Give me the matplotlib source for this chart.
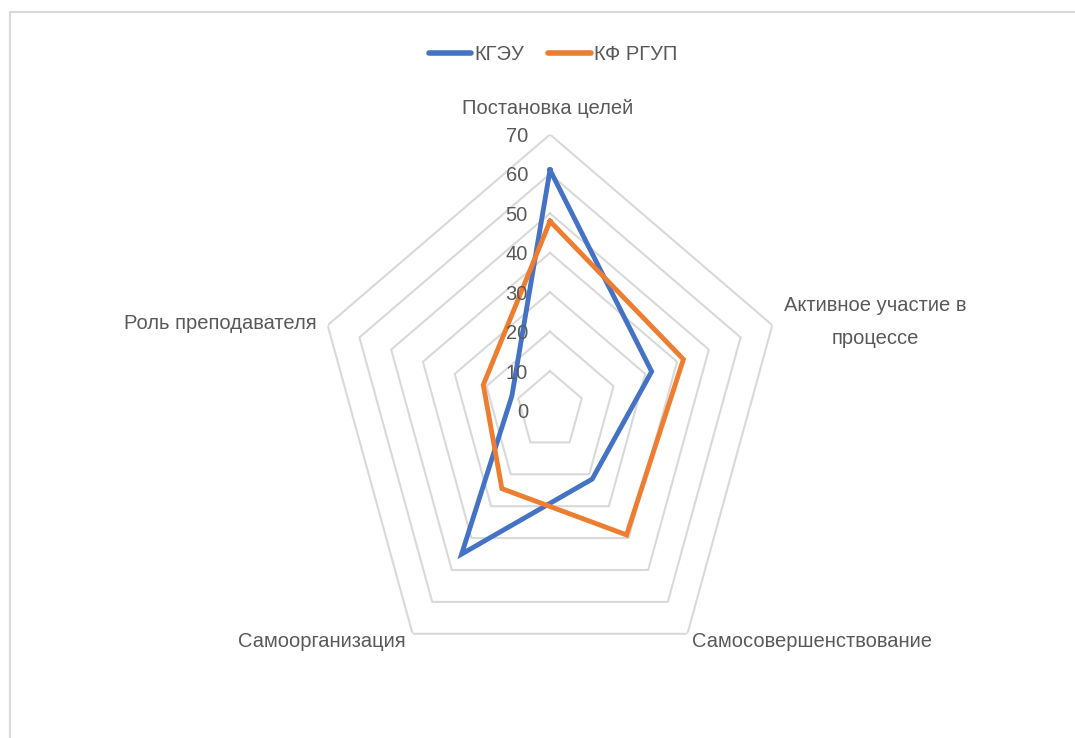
import numpy as np
import matplotlib
matplotlib.use("Agg")
import matplotlib.pyplot as plt
from matplotlib.lines import Line2D
from matplotlib.patches import Rectangle

categories = ["Постановка целей", "Активное участие в\nпроцессе", "Самосовершенствование",
              "Самоорганизация", "Роль преподавателя"]
series_names = ["КГЭУ", "КФ РГУП"]
kgeu = [61, 32, 21.5, 45, 12]
kf_rgup = [48, 42, 39, 24.5, 21]
levels = [10, 20, 30, 40, 50, 60, 70]
tick_values = [0, 10, 20, 30, 40, 50, 60, 70]

BLUE = "#4472C4"
ORANGE = "#ED7D31"
GRID = "#D9D9D9"
TXT = "#595959"

plt.rcParams['font.family'] = ['Liberation Sans', 'DejaVu Sans']
FS = 14.5

fig = plt.figure(figsize=(10.75, 7.38), dpi=100)
W, H = 1075, 738
cx, cy = 550, 410.5
rx, ry = 233.8, 276
ax = fig.add_axes([(cx - rx) / W, (H - cy - ry) / H, 2 * rx / W, 2 * ry / H], projection='polar')
ax.set_aspect('auto')
ax.set_theta_zero_location('N')
ax.set_theta_direction(-1)
ax.set_ylim(0, 70)
ax.set_xticks([])
ax.set_yticks([])
ax.grid(False)
ax.spines['polar'].set_visible(False)
ax.patch.set_alpha(0)

n = len(categories)
theta = np.deg2rad(np.arange(n) * 360.0 / n)
theta_c = np.append(theta, theta[0])

for lv in levels:
    ax.plot(theta_c, [lv] * (n + 1), color=GRID, lw=1.5, zorder=1)

ax.plot(theta_c, kgeu + kgeu[:1], color=BLUE, lw=3.5, zorder=3, solid_joinstyle='miter')
ax.plot(theta_c, kf_rgup + kf_rgup[:1], color=ORANGE, lw=3.5, zorder=4, solid_joinstyle='miter')

for tv in tick_values:
    ax.annotate(str(tv), xy=(0, tv), xytext=(-22, -2), textcoords='offset pixels',
                ha='right', va='center', fontsize=FS, color=TXT, zorder=5)

offsets = [(-2, 26, 'center'), (12, 3, 'left'), (5, -8, 'left'), (-7, -8, 'right'), (-11, 2, 'right')]
for th, lab, (dx, dy, ha) in zip(theta, categories, offsets):
    ax.annotate(lab, xy=(th, 70), xytext=(dx, dy), textcoords='offset pixels',
                ha=ha, va='center', fontsize=FS, color=TXT, multialignment='center',
                linespacing=1.9, annotation_clip=False)

handles = [Line2D([], [], color=BLUE, lw=4, solid_capstyle='round'),
           Line2D([], [], color=ORANGE, lw=4, solid_capstyle='round')]
fig.legend(handles, series_names, loc='center', bbox_to_anchor=(553 / W, 1 - 55 / H),
           ncol=2, frameon=False, fontsize=FS, labelcolor=TXT, handlelength=2.1,
           handletextpad=0.15, columnspacing=1.2)

fig.patches.append(Rectangle((10 / W, -0.05), 1.1, 1 - 12 / H + 0.05, transform=fig.transFigure,
                             fill=False, edgecolor=GRID, lw=1.5))

fig.savefig("out.png", dpi=100, facecolor='white')
